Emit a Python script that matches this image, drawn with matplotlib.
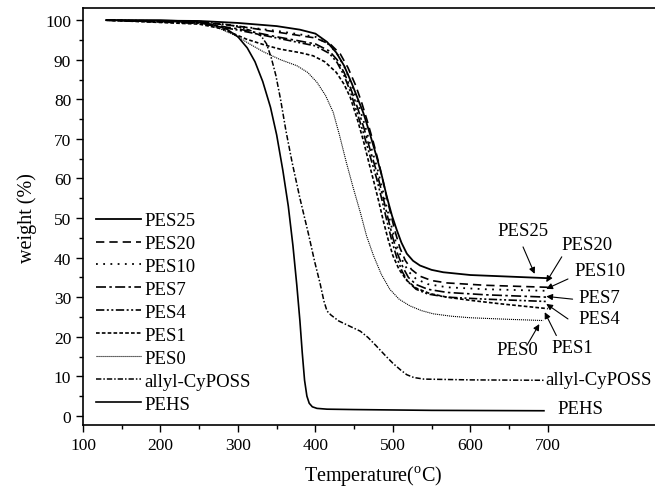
import matplotlib
matplotlib.use("Agg")
import matplotlib.pyplot as plt
from matplotlib.ticker import FixedLocator

plt.rcParams["font.family"] = ["Liberation Serif", "DejaVu Serif"]
plt.rcParams["mathtext.fontset"] = "custom"
plt.rcParams["mathtext.rm"] = "Liberation Serif"

# temperature (C) / weight (%)
pes25_t = [130, 250, 300, 350, 380, 400, 415, 427, 437, 447, 455, 462, 470, 479, 486, 492, 499, 505,
           511, 518, 526, 535, 550, 565, 600, 650, 700]
pes25_w = [100, 99.8, 99.3, 98.5, 97.6, 96.6, 94.5, 91.8, 88.5, 84, 80, 76.5, 71.5, 65.5, 60.5, 55.5,
           50.5, 47, 43.8, 41, 39.2, 38, 36.9, 36.3, 35.6, 35.2, 34.8]

pes20_t = [130, 250, 300, 350, 400, 420, 432, 442, 452, 460, 467, 475, 483, 490, 496, 503, 509, 516,
           524, 535, 550, 570, 620, 700]
pes20_w = [100, 99.5, 98.5, 97, 95.5, 93.8, 91.5, 88, 83.5, 79, 74.5, 69, 63, 57, 52, 46.5, 42.5, 39.3,
           37, 35.3, 34.2, 33.6, 33.0, 32.5]

pes10_t = [130, 250, 300, 350, 400, 418, 428, 438, 446, 455, 463, 471, 480, 487, 493, 500, 506, 513,
           520, 530, 545, 570, 620, 700]
pes10_w = [100, 99.5, 98.5, 97.3, 95.8, 93.8, 91.5, 88, 84, 79, 74, 68.5, 62.5, 57, 52, 46.5, 42.5, 39,
           36.5, 34.6, 33.3, 32.5, 32.0, 31.6]

pes7_t = [130, 250, 300, 350, 400, 418, 428, 437, 446, 455, 463, 471, 480, 487, 493, 500, 506, 513,
          520, 530, 545, 570, 620, 700]
pes7_w = [100, 99.3, 97.8, 95.8, 94, 92.2, 90, 86.8, 82.5, 77.5, 72.5, 67, 61, 55.5, 50.5, 45, 41, 37.5,
          35, 33.2, 32, 31.2, 30.6, 30.0]

pes4_t = [130, 250, 300, 350, 400, 418, 428, 437, 445, 454, 462, 470, 479, 486, 492, 499, 505, 512,
          519, 530, 545, 570, 620, 700]
pes4_w = [100, 99.2, 97.5, 95.5, 93.5, 91.6, 89.3, 86, 82, 76.5, 71.5, 66, 60, 54.5, 49.5, 44, 40, 36.5,
          34, 32, 30.8, 30, 29.5, 28.9]

pes1_t = [130, 250, 280, 311, 335, 354, 380, 397, 412, 427, 437, 445, 454, 462, 469, 475, 482, 488,
          494, 500, 508, 518, 530, 548, 570, 600, 640, 700]
pes1_w = [100, 99, 97.8, 95.2, 93.7, 92.7, 91.8, 91, 89.5, 86.8, 83.8, 80.5, 75, 69.5, 64, 59.5, 54, 49,
          44.5, 40.5, 37, 34.2, 32.3, 30.9, 30, 29.2, 28.3, 27.1]

pes0_t = [130, 200, 235, 255, 275, 298, 315, 333, 355, 376, 390, 402, 413, 423, 431, 440, 449, 458,
          466, 475, 485, 496, 508, 522, 537, 552, 575, 600, 650, 694]
pes0_w = [100, 99.8, 99.6, 99.2, 98, 96, 94, 92, 90, 88.5, 86.8, 84.3, 81, 76.7, 71, 64, 57.5, 51.4,
          45.5, 40.5, 35.8, 32, 29.5, 27.8, 26.6, 25.8, 25.2, 24.8, 24.4, 24.1]

poss_t = [130, 250, 290, 315, 330, 337, 343, 349, 355, 362, 370, 380, 391, 399, 406, 411, 415, 420,
          430, 445, 458, 468, 478, 490, 500, 510, 518, 527, 540, 600, 695]
poss_w = [100, 99.7, 98.8, 97.5, 96, 94, 90.5, 86, 80, 72, 64, 55, 46, 39, 33.5, 29, 26.5, 25.5,
          24, 22.6, 21.4, 19.8, 17.8, 15.3, 13.3, 11.6, 10.4, 9.7, 9.3, 9.1, 9.0]

pehs_t = [130, 200, 240, 265, 285, 300, 312, 322, 332, 342, 350, 358, 365, 371, 376, 380, 383, 386,
          389, 392, 396, 402, 415, 450, 550, 695]
pehs_w = [100, 100, 99.7, 99, 97.8, 95.8, 93, 89.5, 84.5, 78, 71, 62, 53, 43, 33, 24, 16, 9,
          5, 3.2, 2.3, 1.9, 1.7, 1.6, 1.4, 1.3]

series = [
    ("PES25", pes25_t, pes25_w, "-", 1.3),
    ("PES20", pes20_t, pes20_w, (0, (5, 3)), 1.2),
    ("PES10", pes10_t, pes10_w, (0, (1, 3)), 1.3),
    ("PES7", pes7_t, pes7_w, (0, (6, 2, 1.5, 2)), 1.2),
    ("PES4", pes4_t, pes4_w, (0, (5, 1.5, 1.2, 1.5, 1.2, 1.5)), 1.2),
    ("PES1", pes1_t, pes1_w, (0, (2.2, 1.3)), 1.2),
    ("PES0", pes0_t, pes0_w, (0, (1, 0.8)), 0.8),
    ("allyl-CyPOSS", poss_t, poss_w, (0, (3.5, 1.3, 1, 1.3)), 1.1),
    ("PEHS", pehs_t, pehs_w, "-", 1.2),
]

# label text position, arrow tail, arrow head (data coords)
notes = [
    ("PES25", (668, 46.8), (668, 42.7), (683, 35.9)),
    ("PES20", (750, 43.4), (718, 40.2), (698, 33.8)),
    ("PES10", (767, 36.7), (726, 34.6), (698, 32.1)),
    ("PES7", (767, 30.0), (732, 29.5), (698, 30.2)),
    ("PES4", (767, 24.5), (726, 24.5), (698, 28.3)),
    ("PES0", (660, 16.9), (673, 17.8), (689, 23.2)),
    ("PES1", (731, 17.3), (711, 20.3), (696, 26.2)),
]

fig = plt.figure(figsize=(6.55, 4.89), dpi=100)
ax = fig.add_axes([83 / 655, 63 / 489, 750 * 0.7747 / 655, 416.7 / 489])

for name, t, w, ls, lw in series:
    ax.plot(t, w, color="black", linestyle=ls, linewidth=lw, label=name)

for name, txt, tail, head in notes:
    ax.text(txt[0], txt[1], name, ha="center", va="center", fontsize=13.5)
    ax.annotate("", xy=head, xytext=tail,
                arrowprops=dict(arrowstyle="-|>", color="black", lw=0.8,
                                mutation_scale=9, shrinkA=0, shrinkB=0))

ax.text(697, 9.3, "allyl-CyPOSS", ha="left", va="center", fontsize=13.5)
ax.text(712, 1.8, "PEHS", ha="left", va="center", fontsize=13.5)

ax.set_xlim(100, 850)
ax.set_ylim(-2.3, 103)
ax.xaxis.set_major_locator(FixedLocator(list(range(100, 701, 100))))
ax.xaxis.set_minor_locator(FixedLocator(list(range(150, 651, 100))))
ax.yaxis.set_major_locator(FixedLocator(list(range(0, 101, 10))))
ax.yaxis.set_minor_locator(FixedLocator(list(range(5, 96, 10))))
ax.tick_params(which="major", direction="out", length=5, width=1, labelsize=12.5)
ax.tick_params(which="minor", direction="out", length=3, width=1)
ax.spines["right"].set_visible(False)
for s in ["left", "bottom", "top"]:
    ax.spines[s].set_linewidth(1.2)

ax.set_xlabel("Temperature($^{\\rm o}$C)", fontsize=14.5, labelpad=7)
ax.set_ylabel("weight (%)", fontsize=14.5, labelpad=6)

ax.legend(loc="upper left", bbox_to_anchor=(96 / 655, 1 - 213 / 489),
          bbox_transform=fig.transFigure, frameon=False, fontsize=13.5,
          handlelength=2.4, handletextpad=0.2, labelspacing=0.31,
          borderpad=0, borderaxespad=0)

fig.savefig("out.png", dpi=100)
